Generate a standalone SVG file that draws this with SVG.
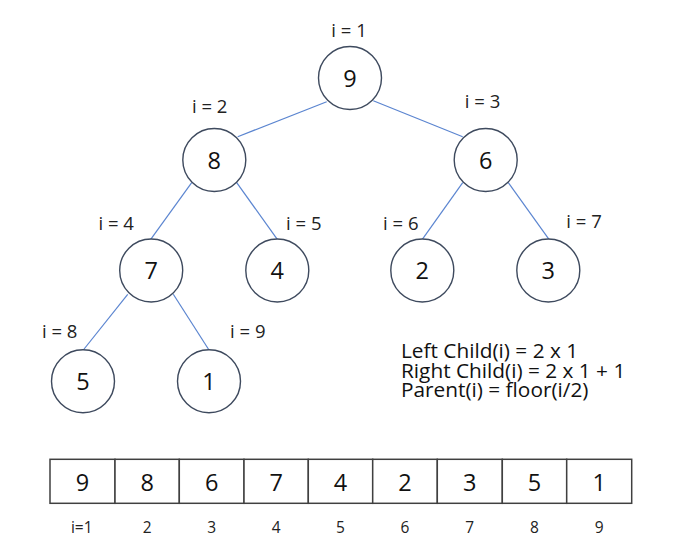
<svg xmlns="http://www.w3.org/2000/svg" width="695" height="549" viewBox="0 0 695 549">
<style>
.n{fill:#fff;stroke:#3e4a5e;stroke-width:1.4}
.v{font-family:"Open Sans",Lato,sans-serif;font-size:23.5px;fill:#111;text-anchor:middle}
.l{font-family:"Open Sans",Lato,sans-serif;font-size:18.5px;fill:#222;text-anchor:middle}
.f{font-family:"Open Sans",Lato,sans-serif;font-size:20.8px;fill:#111}
.e{stroke:#5b85d0;stroke-width:1.2;fill:none}
.c{fill:#fff;stroke:#404040;stroke-width:1.5}
.a{font-family:"Open Sans",Lato,sans-serif;font-size:15.5px;fill:#222;text-anchor:middle}
</style>
<rect width="695" height="549" fill="#fff"/>
<g id="connectors">
<line class="e" x1="326.7" y1="101.7" x2="237.7" y2="136.7"/>
<line class="e" x1="373.3" y1="100.7" x2="462.7" y2="136.7"/>
<line class="e" x1="191.7" y1="182.7" x2="150.7" y2="239.3"/>
<line class="e" x1="236.7" y1="182.7" x2="277.3" y2="239.3"/>
<line class="e" x1="462.7" y1="182.7" x2="422.3" y2="239.3"/>
<line class="e" x1="508.3" y1="182.7" x2="549" y2="239.3"/>
<line class="e" x1="127.7" y1="294.3" x2="83.3" y2="350"/>
<line class="e" x1="173.3" y1="294.3" x2="209" y2="350"/>
</g>
<g id="node1"><circle class="n" cx="350" cy="78" r="31.5"/><text class="v" x="350" y="86.5">9</text><text class="l" x="349" y="37">i = 1</text></g>
<g id="node2"><circle class="n" cx="214.3" cy="160" r="31.5"/><text class="v" x="214.3" y="168.5">8</text><text class="l" x="209.7" y="113">i = 2</text></g>
<g id="node3"><circle class="n" cx="485.7" cy="160" r="31.5"/><text class="v" x="485.7" y="168.5">6</text><text class="l" x="482.5" y="108">i = 3</text></g>
<g id="node4"><circle class="n" cx="151.2" cy="270.5" r="31.5"/><text class="v" x="151.2" y="279">7</text><text class="l" x="116.2" y="230">i = 4</text></g>
<g id="node5"><circle class="n" cx="277.3" cy="270.5" r="31.5"/><text class="v" x="277.3" y="279">4</text><text class="l" x="303.8" y="230">i = 5</text></g>
<g id="node6"><circle class="n" cx="422.3" cy="270.5" r="31.5"/><text class="v" x="422.3" y="279">2</text><text class="l" x="400.8" y="230">i = 6</text></g>
<g id="node7"><circle class="n" cx="548.3" cy="270.5" r="31.5"/><text class="v" x="548.3" y="279">3</text><text class="l" x="584" y="227.7">i = 7</text></g>
<g id="node8"><circle class="n" cx="83" cy="381.3" r="31.5"/><text class="v" x="83" y="389.8">5</text><text class="l" x="59.7" y="338.3">i = 8</text></g>
<g id="node9"><circle class="n" cx="209" cy="381.3" r="31.5"/><text class="v" x="209" y="389.8">1</text><text class="l" x="247.8" y="338.3">i = 9</text></g>
<g id="formulas">
<text class="f" x="401" y="358.3">Left Child(i) = 2 x 1</text>
<text class="f" x="401" y="377.7">Right Child(i) = 2 x 1 + 1</text>
<text class="f" x="401" y="397">Parent(i) = floor(i/2)</text>
</g>
<g id="array">
<rect class="c" x="50" y="459.3" width="65" height="44"/>
<rect class="c" x="115" y="459.3" width="64.3" height="44"/>
<rect class="c" x="179.3" y="459.3" width="64.7" height="44"/>
<rect class="c" x="244" y="459.3" width="64.3" height="44"/>
<rect class="c" x="308.3" y="459.3" width="64.4" height="44"/>
<rect class="c" x="372.7" y="459.3" width="64.6" height="44"/>
<rect class="c" x="437.3" y="459.3" width="65" height="44"/>
<rect class="c" x="502.3" y="459.3" width="64.4" height="44"/>
<rect class="c" x="566.7" y="459.3" width="65" height="44"/>
<text class="v" x="82.5" y="490.8">9</text>
<text class="v" x="147.2" y="490.8">8</text>
<text class="v" x="211.7" y="490.8">6</text>
<text class="v" x="276.2" y="490.8">7</text>
<text class="v" x="340.5" y="490.8">4</text>
<text class="v" x="405" y="490.8">2</text>
<text class="v" x="469.8" y="490.8">3</text>
<text class="v" x="534.5" y="490.8">5</text>
<text class="v" x="599.2" y="490.8">1</text>
<text class="a" x="81.7" y="532.5">i=1</text>
<text class="a" x="147.2" y="532.5">2</text>
<text class="a" x="211.7" y="532.5">3</text>
<text class="a" x="276.2" y="532.5">4</text>
<text class="a" x="340.5" y="532.5">5</text>
<text class="a" x="405" y="532.5">6</text>
<text class="a" x="469.8" y="532.5">7</text>
<text class="a" x="534.5" y="532.5">8</text>
<text class="a" x="599.2" y="532.5">9</text>
</g>
</svg>
